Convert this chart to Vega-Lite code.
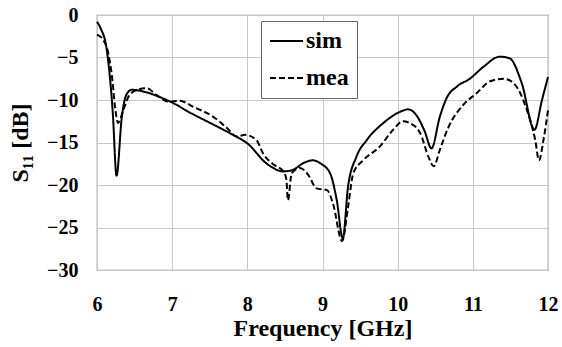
{
  "$schema": "https://vega.github.io/schema/vega-lite/v6.json",
  "autosize": "none",
  "width": 451,
  "height": 255,
  "padding": {"left": 97, "top": 15, "right": 14, "bottom": 77},
  "background": "white",
  "config": {
    "view": {"stroke": "#7f7f7f", "strokeWidth": 1.2},
    "font": "'Liberation Serif', 'DejaVu Serif', serif",
    "axis": {
      "labelFont": "'Liberation Serif', 'DejaVu Serif', serif", "labelFontWeight": "bold", "labelColor": "black",
      "titleFont": "'Liberation Serif', 'DejaVu Serif', serif", "titleFontWeight": "bold", "titleColor": "black",
      "domain": false, "ticks": false, "gridColor": "#c8c8c8", "gridWidth": 1, "gridOpacity": 1
    },
    "legend": {"labelFont": "'Liberation Serif', 'DejaVu Serif', serif"}
  },
  "data": {"values": [
    {"f": 6.0, "s": -0.8, "series": "sim"},
    {"f": 6.05, "s": -1.6, "series": "sim"},
    {"f": 6.13, "s": -4.1, "series": "sim"},
    {"f": 6.21, "s": -11.5, "series": "sim"},
    {"f": 6.26, "s": -18.9, "series": "sim"},
    {"f": 6.33, "s": -12.0, "series": "sim"},
    {"f": 6.39, "s": -9.4, "series": "sim"},
    {"f": 6.46, "s": -8.8, "series": "sim"},
    {"f": 6.66, "s": -9.1, "series": "sim"},
    {"f": 6.82, "s": -9.6, "series": "sim"},
    {"f": 7.0, "s": -10.3, "series": "sim"},
    {"f": 7.24, "s": -11.5, "series": "sim"},
    {"f": 7.55, "s": -12.9, "series": "sim"},
    {"f": 7.81, "s": -14.1, "series": "sim"},
    {"f": 8.0, "s": -15.1, "series": "sim"},
    {"f": 8.26, "s": -17.5, "series": "sim"},
    {"f": 8.48, "s": -18.4, "series": "sim"},
    {"f": 8.61, "s": -18.2, "series": "sim"},
    {"f": 8.75, "s": -17.4, "series": "sim"},
    {"f": 8.87, "s": -17.1, "series": "sim"},
    {"f": 8.98, "s": -17.5, "series": "sim"},
    {"f": 9.1, "s": -18.6, "series": "sim"},
    {"f": 9.19, "s": -21.8, "series": "sim"},
    {"f": 9.27, "s": -26.3, "series": "sim"},
    {"f": 9.34, "s": -20.2, "series": "sim"},
    {"f": 9.45, "s": -16.7, "series": "sim"},
    {"f": 9.59, "s": -14.7, "series": "sim"},
    {"f": 9.81, "s": -12.7, "series": "sim"},
    {"f": 10.03, "s": -11.4, "series": "sim"},
    {"f": 10.14, "s": -11.1, "series": "sim"},
    {"f": 10.25, "s": -11.8, "series": "sim"},
    {"f": 10.36, "s": -13.7, "series": "sim"},
    {"f": 10.45, "s": -15.7, "series": "sim"},
    {"f": 10.56, "s": -12.0, "series": "sim"},
    {"f": 10.65, "s": -9.8, "series": "sim"},
    {"f": 10.79, "s": -8.4, "series": "sim"},
    {"f": 10.96, "s": -7.5, "series": "sim"},
    {"f": 11.14, "s": -6.1, "series": "sim"},
    {"f": 11.36, "s": -4.9, "series": "sim"},
    {"f": 11.49, "s": -5.1, "series": "sim"},
    {"f": 11.65, "s": -8.0, "series": "sim"},
    {"f": 11.82, "s": -13.5, "series": "sim"},
    {"f": 11.92, "s": -10.0, "series": "sim"},
    {"f": 12.0, "s": -7.3, "series": "sim"},
    {"f": 6.0, "s": -2.3, "series": "mea"},
    {"f": 6.08, "s": -2.9, "series": "mea"},
    {"f": 6.15, "s": -4.5, "series": "mea"},
    {"f": 6.2, "s": -7.3, "series": "mea"},
    {"f": 6.24, "s": -10.8, "series": "mea"},
    {"f": 6.28, "s": -12.7, "series": "mea"},
    {"f": 6.35, "s": -11.2, "series": "mea"},
    {"f": 6.42, "s": -9.6, "series": "mea"},
    {"f": 6.51, "s": -8.9, "series": "mea"},
    {"f": 6.66, "s": -8.6, "series": "mea"},
    {"f": 6.79, "s": -9.4, "series": "mea"},
    {"f": 6.95, "s": -10.2, "series": "mea"},
    {"f": 7.1, "s": -10.1, "series": "mea"},
    {"f": 7.28, "s": -10.8, "series": "mea"},
    {"f": 7.55, "s": -12.0, "series": "mea"},
    {"f": 7.73, "s": -13.3, "series": "mea"},
    {"f": 7.86, "s": -14.3, "series": "mea"},
    {"f": 7.97, "s": -14.1, "series": "mea"},
    {"f": 8.12, "s": -14.7, "series": "mea"},
    {"f": 8.21, "s": -16.3, "series": "mea"},
    {"f": 8.35, "s": -17.6, "series": "mea"},
    {"f": 8.48, "s": -18.4, "series": "mea"},
    {"f": 8.52, "s": -19.4, "series": "mea"},
    {"f": 8.54, "s": -21.8, "series": "mea"},
    {"f": 8.59, "s": -18.6, "series": "mea"},
    {"f": 8.7, "s": -18.0, "series": "mea"},
    {"f": 8.81, "s": -18.8, "series": "mea"},
    {"f": 8.92, "s": -20.4, "series": "mea"},
    {"f": 9.06, "s": -20.6, "series": "mea"},
    {"f": 9.14, "s": -22.2, "series": "mea"},
    {"f": 9.26, "s": -26.6, "series": "mea"},
    {"f": 9.34, "s": -22.6, "series": "mea"},
    {"f": 9.41, "s": -18.6, "series": "mea"},
    {"f": 9.54, "s": -17.1, "series": "mea"},
    {"f": 9.76, "s": -15.5, "series": "mea"},
    {"f": 9.94, "s": -13.5, "series": "mea"},
    {"f": 10.07, "s": -12.5, "series": "mea"},
    {"f": 10.16, "s": -12.7, "series": "mea"},
    {"f": 10.3, "s": -13.9, "series": "mea"},
    {"f": 10.41, "s": -16.7, "series": "mea"},
    {"f": 10.48, "s": -17.8, "series": "mea"},
    {"f": 10.56, "s": -15.9, "series": "mea"},
    {"f": 10.67, "s": -13.3, "series": "mea"},
    {"f": 10.87, "s": -10.6, "series": "mea"},
    {"f": 11.05, "s": -9.2, "series": "mea"},
    {"f": 11.23, "s": -7.8, "series": "mea"},
    {"f": 11.41, "s": -7.5, "series": "mea"},
    {"f": 11.54, "s": -8.0, "series": "mea"},
    {"f": 11.72, "s": -11.2, "series": "mea"},
    {"f": 11.83, "s": -14.7, "series": "mea"},
    {"f": 11.88, "s": -17.1, "series": "mea"},
    {"f": 11.94, "s": -14.7, "series": "mea"},
    {"f": 12.0, "s": -11.2, "series": "mea"}
  ]},
  "mark": {"type": "line", "interpolate": "monotone", "strokeWidth": 2, "color": "black"},
  "encoding": {
    "x": {
      "field": "f", "type": "quantitative",
      "scale": {"domain": [6, 12], "nice": false, "zero": false},
      "axis": {"title": "Frequency [GHz]", "values": [6, 7, 8, 9, 10, 11, 12], "labelFontSize": 20, "labelPadding": 24, "titleFontSize": 24, "titlePadding": 2, "labelFlush": false}
    },
    "y": {
      "field": "s", "type": "quantitative",
      "scale": {"domain": [-30, 0], "nice": false, "zero": false},
      "axis": {"title": "S₁₁ [dB]", "values": [-30, -25, -20, -15, -10, -5, 0], "labelFontSize": 20, "labelPadding": 19, "titleFontSize": 24, "titlePadding": 14}
    },
    "strokeDash": {
      "field": "series", "type": "nominal",
      "scale": {"domain": ["sim", "mea"], "range": [[1, 0], [6, 3]]},
      "legend": {
        "title": null, "orient": "none", "legendX": 164, "legendY": 6,
        "symbolType": "stroke", "symbolSize": 1089, "symbolStrokeWidth": 2, "symbolStrokeColor": "black",
        "clipHeight": 24, "rowPadding": 13, "padding": 8,
        "labelFont": "'Liberation Serif', 'DejaVu Serif', serif", "labelFontWeight": "bold", "labelFontSize": 24, "labelColor": "black", "labelOffset": 2,
        "strokeColor": "#666", "fillColor": "white"
      }
    }
  }
}
